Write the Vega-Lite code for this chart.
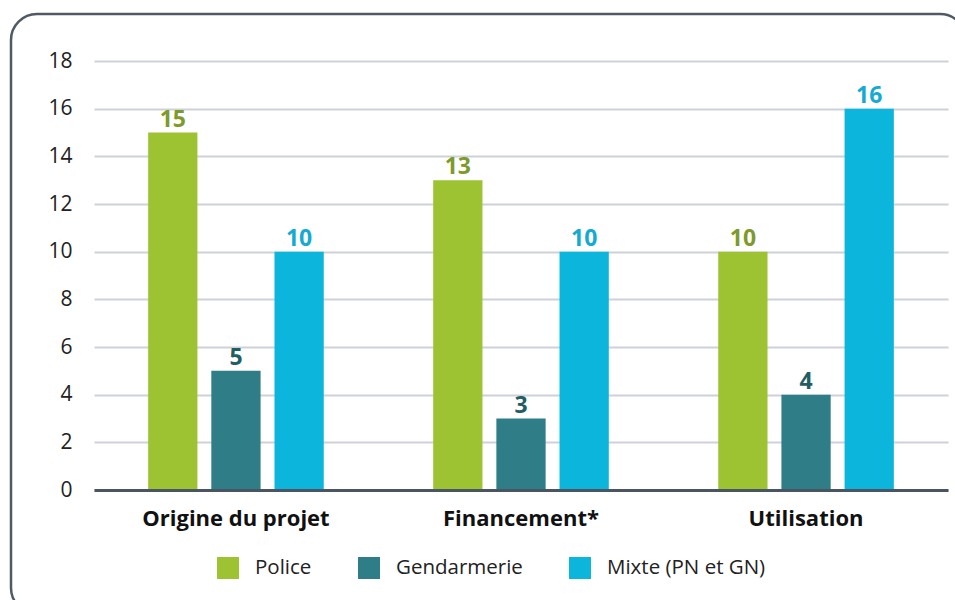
{
  "$schema": "https://vega.github.io/schema/vega-lite/v6.json",
  "width": 955,
  "height": 600,
  "padding": {"left": 11, "top": 14, "right": 0, "bottom": 0},
  "config": {
    "view": {"stroke": "#505a66", "strokeWidth": 2.5, "cornerRadius": 26, "fill": "white"},
    "font": "Open Sans"
  },
  "data": {
    "values": [
      {"categorie": "Origine du projet", "type": "Police", "valeur": 15},
      {"categorie": "Origine du projet", "type": "Gendarmerie", "valeur": 5},
      {"categorie": "Origine du projet", "type": "Mixte (PN et GN)", "valeur": 10},
      {"categorie": "Financement*", "type": "Police", "valeur": 13},
      {"categorie": "Financement*", "type": "Gendarmerie", "valeur": 3},
      {"categorie": "Financement*", "type": "Mixte (PN et GN)", "valeur": 10},
      {"categorie": "Utilisation", "type": "Police", "valeur": 10},
      {"categorie": "Utilisation", "type": "Gendarmerie", "valeur": 4},
      {"categorie": "Utilisation", "type": "Mixte (PN et GN)", "valeur": 16}
    ]
  },
  "encoding": {
    "x": {
      "field": "categorie",
      "type": "nominal",
      "sort": ["Origine du projet", "Financement*", "Utilisation"],
      "scale": {"range": [83, 937], "paddingInner": 0.384, "paddingOuter": 0.19},
      "axis": {
        "title": null,
        "domainColor": "#4a5563",
        "domainWidth": 3,
        "ticks": false,
        "grid": false,
        "labelFontSize": 22,
        "labelFontWeight": "bold",
        "labelColor": "#111111",
        "labelPadding": 18,
        "labelAngle": 0,
        "labelLimit": 400,
        "offset": -124,
        "zindex": 1
      }
    },
    "xOffset": {
      "field": "type",
      "type": "nominal",
      "sort": ["Police", "Gendarmerie", "Mixte (PN et GN)"],
      "scale": {"paddingInner": 0.22, "paddingOuter": 0}
    },
    "y": {
      "field": "valeur",
      "type": "quantitative",
      "scale": {"domain": [0, 18], "range": [476, 47], "nice": false},
      "axis": {
        "title": null,
        "values": [0, 2, 4, 6, 8, 10, 12, 14, 16, 18],
        "grid": true,
        "gridColor": "#cdd1d9",
        "gridWidth": 2,
        "domain": false,
        "ticks": false,
        "offset": -66,
        "labelPadding": 5,
        "labelFontSize": 21,
        "labelColor": "#222222"
      }
    }
  },
  "layer": [
    {
      "mark": {"type": "bar"},
      "encoding": {
        "color": {
          "field": "type",
          "type": "nominal",
          "sort": ["Police", "Gendarmerie", "Mixte (PN et GN)"],
          "scale": {"domain": ["Police", "Gendarmerie", "Mixte (PN et GN)"], "range": ["#9dc232", "#2f7d87", "#0bb5dc"]},
          "legend": {
            "title": null,
            "orient": "none",
            "legendX": 206,
            "legendY": 543,
            "direction": "horizontal",
            "symbolType": "square",
            "symbolSize": 484,
            "symbolStrokeWidth": 0,
            "labelFontSize": 20.5,
            "labelColor": "#222222",
            "labelLimit": 300,
            "columnPadding": 46,
            "labelOffset": 16
          }
        }
      }
    },
    {
      "mark": {"type": "text", "baseline": "alphabetic", "dy": -6, "fontWeight": "bold", "fontSize": 23},
      "encoding": {
        "text": {"field": "valeur", "type": "quantitative"},
        "color": {
          "field": "type",
          "type": "nominal",
          "scale": {"domain": ["Police", "Gendarmerie", "Mixte (PN et GN)"], "range": ["#7d9a2b", "#1f5e65", "#14aad4"]},
          "legend": null
        }
      }
    }
  ],
  "resolve": {"scale": {"color": "independent"}}
}
